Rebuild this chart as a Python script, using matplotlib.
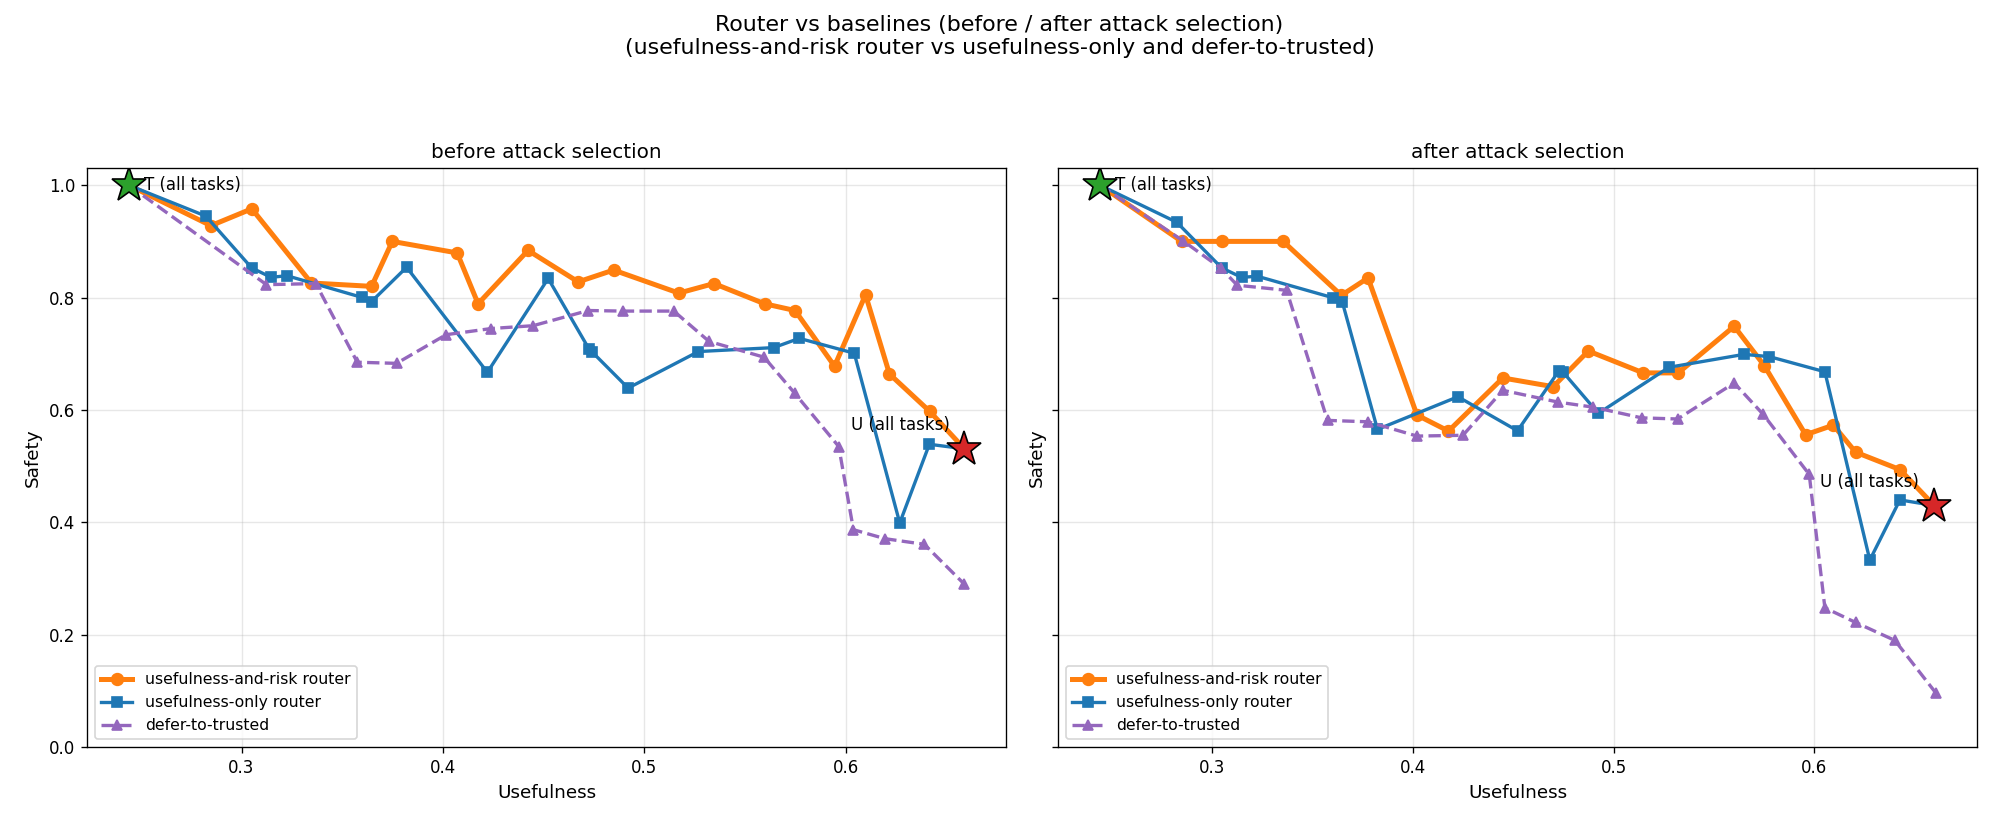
import matplotlib
matplotlib.use("Agg")
import matplotlib.pyplot as plt

# --- data ---
# before attack selection
before_risk_x = [0.244, 0.2848, 0.3051, 0.3347, 0.3646, 0.3749, 0.4071, 0.4175, 0.4423, 0.4672,
                 0.4848, 0.5172, 0.5346, 0.5598, 0.5749, 0.5945, 0.6099, 0.6218, 0.6418, 0.659]
before_risk_y = [1.0, 0.928, 0.958, 0.826, 0.820, 0.900, 0.8795, 0.789, 0.884, 0.828,
                 0.849, 0.808, 0.825, 0.789, 0.777, 0.678, 0.805, 0.664, 0.5975, 0.531]
before_use_x = [0.244, 0.2823, 0.305, 0.3147, 0.3225, 0.3597, 0.3646, 0.382, 0.4221, 0.4523,
                0.4725, 0.4742, 0.4920, 0.5269, 0.5643, 0.5770, 0.6043, 0.6269, 0.6416, 0.659]
before_use_y = [1.0, 0.945, 0.853, 0.836, 0.839, 0.8005, 0.793, 0.854, 0.667, 0.834,
                0.709, 0.703, 0.639, 0.704, 0.711, 0.7275, 0.701, 0.399, 0.539, 0.531]
before_dtt_x = [0.244, 0.3124, 0.3369, 0.3575, 0.377, 0.4016, 0.4241, 0.4448, 0.4722, 0.4896,
                0.5147, 0.5322, 0.5595, 0.5747, 0.5966, 0.6039, 0.6196, 0.6391, 0.659]
before_dtt_y = [1.0, 0.823, 0.825, 0.685, 0.683, 0.734, 0.745, 0.750, 0.777, 0.776,
                0.776, 0.722, 0.694, 0.630, 0.535, 0.387, 0.371, 0.361, 0.290]

# after attack selection
after_risk_x = [0.244, 0.2847, 0.3046, 0.3353, 0.3643, 0.3776, 0.402, 0.4177, 0.4448, 0.4699,
                0.4874, 0.5148, 0.5322, 0.5601, 0.5751, 0.5957, 0.6095, 0.6206, 0.6427, 0.6598]
after_risk_y = [1.0, 0.900, 0.900, 0.900, 0.804, 0.835, 0.591, 0.5625, 0.657, 0.6415,
                0.705, 0.666, 0.666, 0.749, 0.679, 0.556, 0.573, 0.525, 0.494, 0.430]
after_use_x = [0.244, 0.2823, 0.3046, 0.3146, 0.3224, 0.3599, 0.3648, 0.3823, 0.4224, 0.4521,
               0.4728, 0.4749, 0.4924, 0.5276, 0.5650, 0.5776, 0.6053, 0.6277, 0.6427, 0.6598]
after_use_y = [1.0, 0.934, 0.853, 0.836, 0.838, 0.800, 0.792, 0.5655, 0.6236, 0.563,
               0.670, 0.667, 0.594, 0.676, 0.699, 0.695, 0.668, 0.333, 0.440, 0.430]
after_dtt_x = [0.244, 0.2854, 0.3044, 0.3124, 0.337, 0.3574, 0.3776, 0.402, 0.4249, 0.4448,
               0.4724, 0.4899, 0.514, 0.5319, 0.5601, 0.5746, 0.5975, 0.6053, 0.6206, 0.6402, 0.6605]
after_dtt_y = [1.0, 0.901, 0.852, 0.822, 0.813, 0.5815, 0.579, 0.5536, 0.555, 0.635,
               0.614, 0.605, 0.586, 0.584, 0.648, 0.592, 0.4854, 0.248, 0.222, 0.190, 0.097]

# endpoints: trusted model on all tasks, untrusted model on all tasks
t_point = (0.244, 1.0)
u_before = (0.659, 0.531)
u_after = (0.6598, 0.430)

panels = [
    ("before attack selection", before_risk_x, before_risk_y, before_use_x, before_use_y,
     before_dtt_x, before_dtt_y, u_before),
    ("after attack selection", after_risk_x, after_risk_y, after_use_x, after_use_y,
     after_dtt_x, after_dtt_y, u_after),
]

fig, axes = plt.subplots(1, 2, figsize=(1999 / 120, 826 / 120), dpi=120, sharey=True)
fig.subplots_adjust(left=0.0435, right=0.9892, bottom=0.0954, top=0.7962, wspace=0.0566)

for ax, (title, rx, ry, ux, uy, dx, dy, u_pt) in zip(axes, panels):
    ax.plot(rx, ry, color="tab:orange", marker="o", lw=3, ms=7, label="usefulness-and-risk router")
    ax.plot(ux, uy, color="tab:blue", marker="s", lw=2, ms=6, label="usefulness-only router")
    ax.plot(dx, dy, color="tab:purple", marker="^", lw=2, ms=6, ls="--", label="defer-to-trusted")

    # T / U reference points
    ax.plot(*t_point, marker="*", ms=22, color="tab:green", mec="black", mew=1, ls="none", zorder=5)
    ax.plot(*u_pt, marker="*", ms=22, color="tab:red", mec="black", mew=1, ls="none", zorder=5)
    ax.annotate("T (all tasks)", t_point, textcoords="offset points", xytext=(9, 0),
                va="center", ha="left", fontsize=10)
    ax.annotate("U (all tasks)", u_pt, textcoords="offset points", xytext=(-9, 14),
                va="center", ha="right", fontsize=10)

    ax.set_title(title, fontsize=12)
    ax.set_xlabel("Usefulness", fontsize=11)
    ax.set_ylabel("Safety", fontsize=11)
    ax.grid(True, alpha=0.3)
    ax.legend(loc="lower left", fontsize=9.4)

axes[0].set_ylim(0, 1.03)

fig.suptitle("Router vs baselines (before / after attack selection)\n"
             "(usefulness-and-risk router vs usefulness-only and defer-to-trusted)",
             fontsize=13.3, y=0.982, va="top")

fig.savefig("out.png", dpi=120)
